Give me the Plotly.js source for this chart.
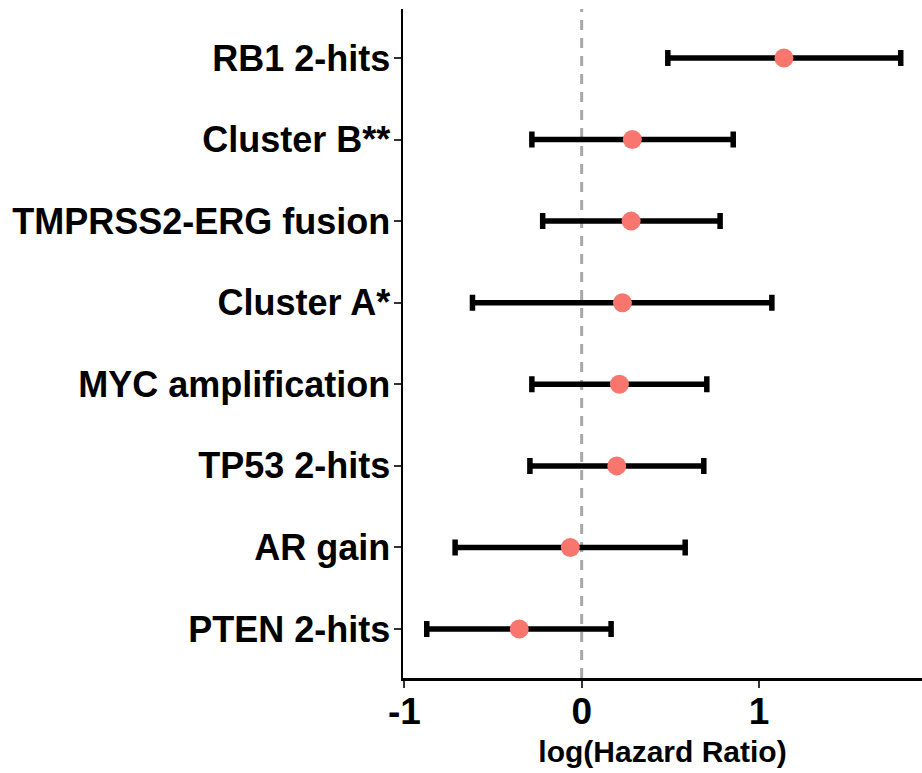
<!DOCTYPE html>
<html>
<head>
<meta charset="utf-8">
<script src="https://cdn.plot.ly/plotly-3.0.1.min.js"></script>
<style>html,body{margin:0;padding:0;background:#fff;}#chart{width:922px;height:773px;}</style>
</head>
<body>
<div id="chart"></div>
<script>
// Categories (bottom to top)
const categories = ["PTEN 2-hits", "AR gain", "TP53 2-hits", "MYC amplification", "Cluster A*", "TMPRSS2-ERG fusion", "Cluster B**", "RB1 2-hits"];
// log(Hazard Ratio) estimates and 95% CI bounds
const estimate = [-0.352, -0.064, 0.198, 0.213, 0.230, 0.279, 0.286, 1.141];
const lower    = [-0.874, -0.714, -0.292, -0.281, -0.616, -0.220, -0.281, 0.486];
const upper    = [0.166, 0.584, 0.689, 0.706, 1.073, 0.781, 0.855, 1.800];
const xTicks = [-1, 0, 1];

const errPlus = upper.map((u, i) => u - estimate[i]);
const errMinus = estimate.map((e, i) => e - lower[i]);

const FONT = '"Liberation Sans", Arial, sans-serif';

const traces = [
  {
    type: 'scatter', mode: 'markers', x: estimate, y: categories,
    marker: {size: 18, color: 'rgba(0,0,0,0)'},
    error_x: {type: 'data', symmetric: false, array: errPlus, arrayminus: errMinus,
              color: '#000000', thickness: 5.5, width: 8},
    hoverinfo: 'skip', showlegend: false
  },
  {
    type: 'scatter', mode: 'markers', x: estimate, y: categories,
    marker: {size: 19, color: '#F8766D', line: {width: 0}},
    showlegend: false
  }
];

const layout = {
  width: 922, height: 773,
  margin: {l: 403, r: 0, t: 9, b: 95},
  paper_bgcolor: '#ffffff', plot_bgcolor: '#ffffff',
  showlegend: false,
  font: {family: FONT, color: '#000000'},
  xaxis: {
    range: [-1.008, 1.92],
    tickvals: xTicks, ticktext: xTicks.map(String),
    showgrid: false, zeroline: false,
    showline: true, linecolor: '#000000', linewidth: 2.5,
    ticks: 'outside', ticklen: 7, tickwidth: 2, tickcolor: '#333333',
    tickfont: {family: FONT, size: 37, color: '#000000', weight: 'bold'},
    ticklabelstandoff: -8,
    title: {text: '<b>log(Hazard Ratio)</b>', font: {family: FONT, size: 30, color: '#000000'}, standoff: 10}
  },
  yaxis: {
    type: 'category', categoryorder: 'array', categoryarray: categories,
    range: [-0.6, 7.6],
    showgrid: false, zeroline: false,
    showline: true, linecolor: '#000000', linewidth: 2.5,
    ticks: 'outside', ticklen: 7, tickwidth: 2, tickcolor: '#333333',
    tickfont: {family: FONT, size: 36, color: '#000000', weight: 'bold'},
    ticklabelstandoff: -4
  },
  shapes: [{
    type: 'line', xref: 'x', yref: 'paper', x0: 0, x1: 0, y0: 0, y1: 1,
    line: {color: '#A8A8A8', width: 3, dash: '10px,8px'}, layer: 'below'
  }]
};

Plotly.newPlot('chart', traces, layout, {displayModeBar: false, staticPlot: true});
</script>
</body>
</html>
